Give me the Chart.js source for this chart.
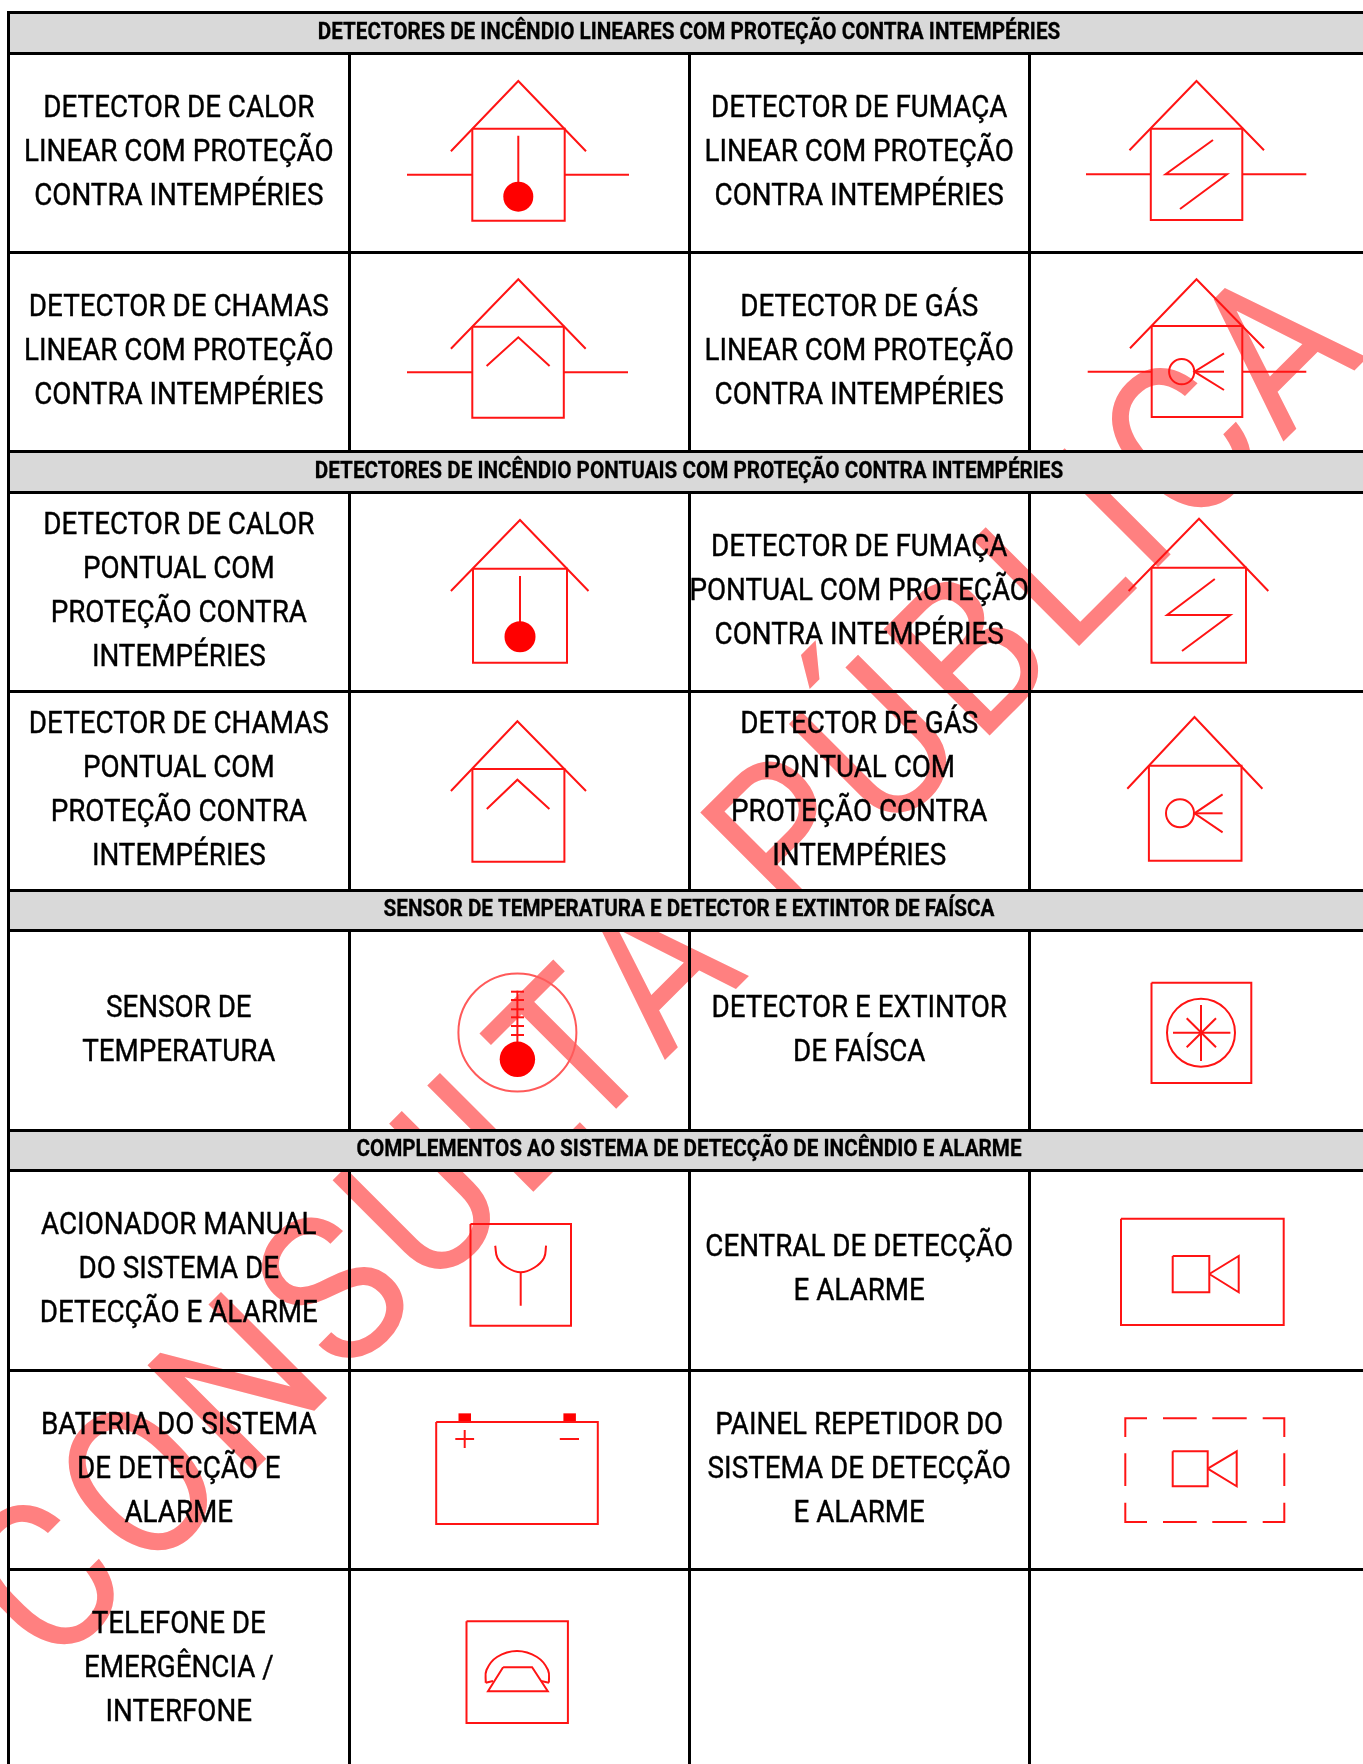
<!DOCTYPE html>
<html>
<head>
<meta charset="utf-8">
<title>Detectores de incêndio</title>
<script src="https://cdn.jsdelivr.net/npm/chart.js@4"></script>
<style>
  html, body { margin: 0; padding: 0; background: #fff; overflow: hidden; }
  canvas { display: block; }
</style>
</head>
<body>
<canvas id="tabela" width="1363" height="1764"></canvas>
<script>
// table layout, in reference units (the axes below run 0-1363 and 0-1764)
const colEdges = [8.5, 349.5, 689.5, 1029.5];
const rowLines = [12.5, 53.5, 252.5, 451.5, 492.5, 691.5, 890.5, 930.5, 1130.5, 1170.5, 1370.5, 1569.5];
const bodyBlocks = [[53, 451], [492, 891], [930, 1131], [1170, 1764]];
const sectionTitles = [
    "DETECTORES DE INCÊNDIO LINEARES COM PROTEÇÃO CONTRA INTEMPÉRIES",
    "DETECTORES DE INCÊNDIO PONTUAIS COM PROTEÇÃO CONTRA INTEMPÉRIES",
    "SENSOR DE TEMPERATURA E DETECTOR E EXTINTOR DE FAÍSCA",
    "COMPLEMENTOS AO SISTEMA DE DETECÇÃO DE INCÊNDIO E ALARME"
];
const sectionBands = [[12.5, 53.5], [451.5, 492.5], [890.5, 930.5], [1130.5, 1170.5]];

const rowCentres = [152.75, 351.75, 591.5, 791, 1030.5, 1270.15, 1469.8, 1668.5];
const leftLabels = [
    ["DETECTOR DE CALOR", "LINEAR COM PROTEÇÃO", "CONTRA INTEMPÉRIES"],
    ["DETECTOR DE CHAMAS", "LINEAR COM PROTEÇÃO", "CONTRA INTEMPÉRIES"],
    ["DETECTOR DE CALOR", "PONTUAL COM", "PROTEÇÃO CONTRA", "INTEMPÉRIES"],
    ["DETECTOR DE CHAMAS", "PONTUAL COM", "PROTEÇÃO CONTRA", "INTEMPÉRIES"],
    ["SENSOR DE", "TEMPERATURA"],
    ["ACIONADOR MANUAL", "DO SISTEMA DE", "DETECÇÃO E ALARME"],
    ["BATERIA DO SISTEMA", "DE DETECÇÃO E", "ALARME"],
    ["TELEFONE DE", "EMERGÊNCIA /", "INTERFONE"]
];
const rightLabels = [
    ["DETECTOR DE FUMAÇA", "LINEAR COM PROTEÇÃO", "CONTRA INTEMPÉRIES"],
    ["DETECTOR DE GÁS", "LINEAR COM PROTEÇÃO", "CONTRA INTEMPÉRIES"],
    ["DETECTOR DE FUMAÇA", "PONTUAL COM PROTEÇÃO", "CONTRA INTEMPÉRIES"],
    ["DETECTOR DE GÁS", "PONTUAL COM", "PROTEÇÃO CONTRA", "INTEMPÉRIES"],
    ["DETECTOR E EXTINTOR", "DE FAÍSCA"],
    ["CENTRAL DE DETECÇÃO", "E ALARME"],
    ["PAINEL REPETIDOR DO", "SISTEMA DE DETECÇÃO", "E ALARME"],
    []
];
const watermark = "CONSULTA PÚBLICA";

// symbols: each entry is one polyline, [x, y, x, y, ...]
const symbolLines = [
    // calor linear
    [450.9,151.3, 518.3,81, 586,151.3], [472.3,128.7, 564.7,128.7, 564.7,220.7, 472.3,220.7, 472.3,128.7],
    [407,174.7, 472.3,174.7], [564.7,174.7, 629,174.7], [518.3,135.7, 518.3,190],
    // fumaca linear
    [1129.5,150.3, 1196.5,81, 1264,150.3], [1150.8,128.7, 1242.3,128.7, 1242.3,220, 1150.8,220, 1150.8,128.7],
    [1086,174.3, 1150.8,174.3], [1242.3,174.3, 1306.3,174.3], [1213,140, 1165.6,174.3, 1227,174.3, 1180,209],
    // chamas linear
    [450.9,348.7, 518.3,279.3, 585.7,348.7], [472.3,326.7, 563.8,326.7, 563.8,417.7, 472.3,417.7, 472.3,326.7],
    [407,372.3, 472.3,372.3], [563.8,372.3, 628,372.3], [486.6,366, 518.3,337.3, 549.6,366],
    // gas linear
    [1130,348.3, 1196.5,279.3, 1264,348.3], [1151.7,326, 1242.3,326, 1242.3,417, 1151.7,417, 1151.7,326],
    [1087.7,371.7, 1151.7,371.7], [1242.3,371.7, 1306.3,371.7], [1224,353.3, 1194.4,371.7, 1224,390], [1194.4,371.7, 1224,371.7],
    // calor pontual
    [450.9,591, 520,520, 588.5,591], [473,568.7, 567,568.7, 567,662.7, 473,662.7, 473,568.7], [520,576, 520,630],
    // fumaca pontual
    [1128.6,591, 1199,518.7, 1268.3,591], [1151.5,567.7, 1246,567.7, 1246,662.7, 1151.5,662.7, 1151.5,567.7],
    [1214.8,579, 1167.1,615, 1230.4,615, 1182,651],
    // chamas pontual
    [450.9,791, 517.4,721.3, 586,791], [472.4,769, 564.4,769, 564.4,861.7, 472.4,861.7, 472.4,769], [486.8,809, 517.4,779.7, 549.4,809],
    // gas pontual
    [1127.3,788.7, 1194.5,717, 1262.4,788.7], [1148.9,765.7, 1241.5,765.7, 1241.5,860.7, 1148.9,860.7, 1148.9,765.7],
    [1222.6,794.3, 1194.5,813.3, 1222.6,832.3], [1194.5,813.3, 1222.6,813.3],
    // sensor de temperatura
    [517.4,990.7, 517.4,1045], [511,991.7, 524,991.7], [511,1000, 524,1000], [511,1009.3, 524,1009.3],
    [511,1017.3, 524,1017.3], [511,1026, 524,1026], [511,1035, 524,1035],
    // detector e extintor de faisca
    [1151.5,982.7, 1251.3,982.7, 1251.3,1083, 1151.5,1083, 1151.5,982.7], [1201,1005, 1201,1061], [1173,1032.7, 1230.4,1032.7],
    [1186.7,1047.3, 1216,1018.3], [1186.7,1018.3, 1216,1047.3],
    // acionador manual
    [470.5,1224, 571,1224, 571,1325.7, 470.5,1325.7, 470.5,1224], [520.7,1272.3, 520.7,1305.7],
    // central
    [1121,1218.7, 1283.7,1218.7, 1283.7,1325, 1121,1325, 1121,1218.7], [1172.7,1256, 1209.3,1256, 1209.3,1292.3, 1172.7,1292.3, 1172.7,1256],
    [1209.3,1274, 1238.7,1256, 1238.7,1292.3, 1209.3,1274],
    // painel repetidor
    [1125.3,1437, 1125.3,1418.3, 1147,1418.3], [1163,1418.3, 1196.7,1418.3], [1212.3,1418.3, 1246.7,1418.3], [1262.7,1418.3, 1284.3,1418.3, 1284.3,1437],
    [1125.3,1453.3, 1125.3,1486], [1284.3,1453.3, 1284.3,1486],
    [1125.3,1502.7, 1125.3,1522, 1147,1522], [1163,1522, 1196.7,1522], [1212.3,1522, 1246.7,1522], [1262.7,1522, 1284.3,1522, 1284.3,1502.7],
    [1172.7,1451.3, 1207.7,1451.3, 1207.7,1486.3, 1172.7,1486.3, 1172.7,1451.3], [1207.7,1468.7, 1236.7,1451.3, 1236.7,1486.3, 1207.7,1468.7],
    // bateria
    [436.2,1422, 597.8,1422, 597.8,1524, 436.2,1524, 436.2,1422], [455.3,1439, 474.1,1439], [464.7,1430, 464.7,1448], [559.8,1439, 579,1439],
    // telefone
    [466.5,1621.3, 567.9,1621.3, 567.9,1723, 466.5,1723, 466.5,1621.3],
    [503.1,1667.3, 532.1,1667.3, 547.8,1691.3, 488,1691.3, 503.1,1667.3],
    [493,1681, 485.7,1682.7], [541,1681, 549,1682.7]
];
const symbolCurves = [
    [495.2,1245.7, 497.5,1258, 507,1267.5, 520.7,1272.3, 534.5,1267.5, 544,1258, 546.1,1245.7],
    [485.7,1682.7, 486.5,1670, 497,1657, 517,1651, 537,1657, 548,1670, 549,1682.7]
];
// x, y, radius, colour
const symbolRings = [[1181.7,371.7,12.6,"#ff1414"], [1180,813.3,14,"#ff1414"], [517.4,1032.5,59,"#ff5a5a"], [1201,1032.7,34,"#ff1414"]];
const symbolDots = [[518.3,196.7,15], [520,636.7,15.5], [517.4,1059.3,17.7]];
// battery posts: x from, x to, y, thickness
const symbolPosts = [[458.5,471,1417.7,8.7], [563.4,575.9,1417.7,8.7]];

const RED = "#ff1414";
const STROKE = 2;

function toPoints(flat) {
    const pts = [];
    for (let i = 0; i < flat.length; i += 2) pts.push({ x: flat[i], y: flat[i + 1] });
    return pts;
}

function lineSet(points, color, width, order, tension) {
    return {
        data: points, showLine: true, pointRadius: 0, borderColor: color, borderWidth: width,
        order: order, tension: tension || 0, borderCapStyle: "butt", borderJoinStyle: "miter", fill: false
    };
}

const datasets = [];
sectionBands.forEach(b => {
    const mid = (b[0] + b[1]) / 2;
    datasets.push(lineSet([{ x: 8, y: mid }, { x: 1363, y: mid }], "#d9d9d9", b[1] - b[0], 5));
});
rowLines.forEach(y => datasets.push(lineSet([{ x: 7, y: y }, { x: 1363, y: y }], "#000", 3, 4)));
datasets.push(lineSet([{ x: colEdges[0], y: 11 }, { x: colEdges[0], y: 1764 }], "#000", 3, 4));
colEdges.slice(1).forEach(x => bodyBlocks.forEach(b => {
    datasets.push(lineSet([{ x: x, y: b[0] }, { x: x, y: b[1] }], "#000", 3, 4));
}));
symbolLines.forEach(l => datasets.push(lineSet(toPoints(l), RED, STROKE, 2)));
symbolCurves.forEach(l => datasets.push(lineSet(toPoints(l), RED, STROKE, 2, 0.4)));
symbolPosts.forEach(p => datasets.push(lineSet([{ x: p[0], y: p[2] }, { x: p[1], y: p[2] }], "#ff0000", p[3], 2)));
symbolRings.forEach(r => datasets.push({
    data: [{ x: r[0], y: r[1] }], pointRadius: r[2], pointBackgroundColor: "transparent",
    pointBorderColor: r[3], pointBorderWidth: STROKE, order: 2, showLine: false
}));
symbolDots.forEach(r => datasets.push({
    data: [{ x: r[0], y: r[1] }], pointRadius: r[2], pointBackgroundColor: "#ff0000",
    pointBorderColor: "#ff0000", pointBorderWidth: 0, order: 1, showLine: false
}));

// the source uses a condensed face, Roboto squeezed sideways comes close
function squeezedText(ctx, text, x, y, squeeze, weight) {
    ctx.save();
    ctx.translate(x, y);
    ctx.scale(squeeze, 1);
    ctx.textAlign = "center";
    ctx.lineWidth = weight;
    ctx.strokeStyle = ctx.fillStyle;
    ctx.strokeText(text, 0, 0);
    ctx.fillText(text, 0, 0);
    ctx.restore();
}

const tablePlugin = {
    id: "tablePlugin",
    beforeDatasetsDraw(chart) {
        const { ctx, scales } = chart;
        ctx.save();
        ctx.translate(scales.x.getPixelForValue(713), scales.y.getPixelForValue(1012));
        ctx.rotate(-Math.PI / 4);
        ctx.scale(0.9, 1);
        ctx.font = "211px Roboto";
        ctx.letterSpacing = "9px";
        ctx.fillStyle = "#ff8080";
        ctx.textAlign = "center";
        ctx.textBaseline = "alphabetic";
        ctx.fillText(watermark, 0, 0);
        ctx.restore();
    },
    afterDatasetsDraw(chart) {
        const { ctx, scales } = chart;
        ctx.save();
        ctx.fillStyle = "#000";
        ctx.textBaseline = "alphabetic";
        ctx.font = "bold 24px Roboto";
        sectionTitles.forEach((t, i) => {
            const mid = (sectionBands[i][0] + sectionBands[i][1]) / 2;
            squeezedText(ctx, t, scales.x.getPixelForValue(689), scales.y.getPixelForValue(mid + 5.5), 0.861, 0.3);
        });
        ctx.font = "31px Roboto";
        const drawCell = (lines, centreX, rowMid) => {
            lines.forEach((line, i) => {
                const y = rowMid - 3 + (i - (lines.length - 1) / 2) * 44 + 11;
                squeezedText(ctx, line, scales.x.getPixelForValue(centreX), scales.y.getPixelForValue(y), 0.896, 0.4);
            });
        };
        rowCentres.forEach((mid, i) => {
            drawCell(leftLabels[i], 178.8, mid);
            drawCell(rightLabels[i], 859.2, mid);
        });
        ctx.restore();
    }
};

new Chart(document.getElementById("tabela").getContext("2d"), {
    type: "scatter",
    data: { datasets: datasets },
    options: {
        responsive: false,
        animation: false,
        layout: { padding: 0, autoPadding: false },
        clip: false,
        plugins: { legend: { display: false }, tooltip: { enabled: false }, title: { display: false } },
        scales: {
            x: { type: "linear", min: 0, max: 1363, display: false },
            y: { type: "linear", min: 0, max: 1764, reverse: true, display: false }
        }
    },
    plugins: [tablePlugin]
});
</script>
</body>
</html>
